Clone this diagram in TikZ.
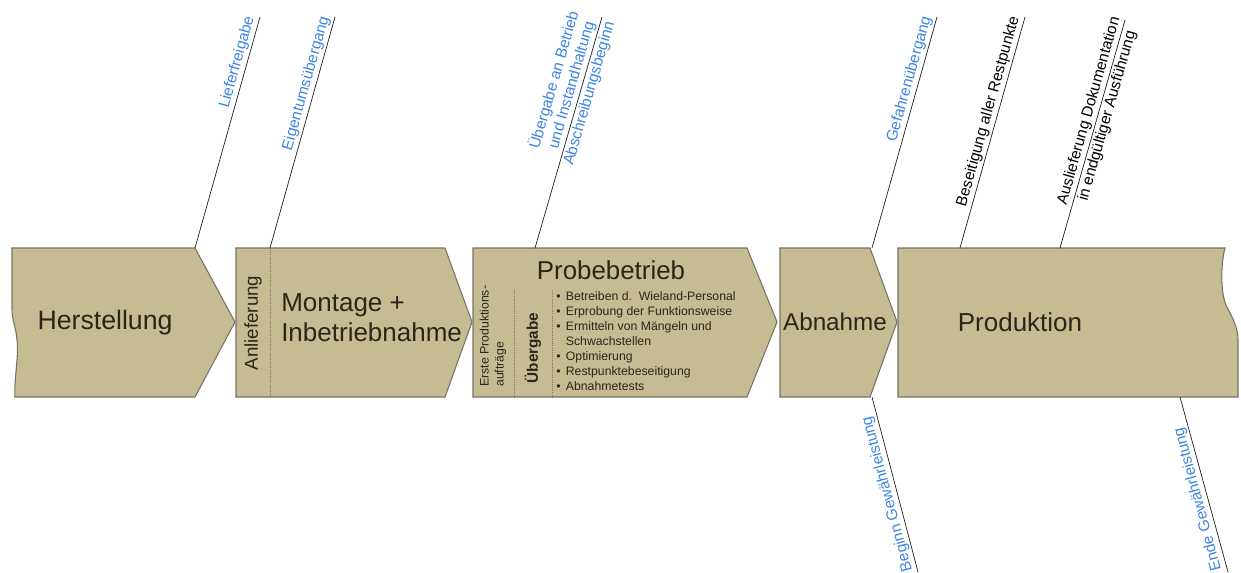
\documentclass[tikz,border=0pt]{standalone}
\usepackage{fontspec}
\setmainfont{Liberation Sans}
\usetikzlibrary{calc}

\definecolor{phaseFill}{RGB}{197,188,148}
\definecolor{phaseLine}{RGB}{118,116,98}
\definecolor{phaseText}{RGB}{42,38,24}
\definecolor{msBlue}{RGB}{62,132,228}

\begin{document}
\begin{tikzpicture}[
    x=0.75pt, y=0.75pt,
    phasebox/.style={fill=phaseFill, draw=phaseLine, line width=0.8pt},
    sepline/.style={draw=phaseLine, densely dotted, line width=0.6pt},
    msline/.style={draw=black!85, line width=0.55pt},
    bigtext/.style={text=phaseText, inner sep=0pt},
    smalltext/.style={text=phaseText, inner sep=0pt, font=\fontsize{9.2}{11.25}\selectfont},
    mslabel/.style={font=\fontsize{11.6}{13.5}\selectfont, inner sep=1.5pt},
]
    \useasboundingbox (0,0) rectangle (1241,572);

    \def\boxTop{324}
    \def\boxBot{175}
    \def\boxMid{250}

    % phase boxes
    \draw [phasebox] (12,\boxTop) -- (195,\boxTop) -- (235,\boxMid) -- (195,\boxBot) -- (15,\boxBot)
        .. controls (14,195) and (19,215) .. (17,232) .. controls (16,245) and (12,252) .. (12,262) -- cycle;
    \draw [phasebox] (236,\boxTop) -- (445,\boxTop) -- (472,\boxMid) -- (445,\boxBot) -- (236,\boxBot) -- cycle;
    \draw [phasebox] (473,\boxTop) -- (747,\boxTop) -- (777,\boxMid) -- (747,\boxBot) -- (473,\boxBot) -- cycle;
    \draw [phasebox] (780,\boxTop) -- (870,\boxTop) -- (897,\boxMid) -- (870,\boxBot) -- (780,\boxBot) -- cycle;
    \draw [phasebox] (898,\boxTop) -- (1225,\boxTop) .. controls (1220,305) and (1221,275) .. (1227,265)
        .. controls (1232,255) and (1238,245) .. (1238,232) -- (1238,\boxBot) -- (898,\boxBot) -- cycle;

    % dotted separators
    \draw [sepline] (270,\boxTop) -- (270,\boxBot);
    \foreach \x in {514, 552}
    {
        \draw [sepline] (\x,282) -- (\x,\boxBot);
    }

    % phase texts
    \node [bigtext, font=\fontsize{20}{24}\selectfont] (herstellung) at (105,249) {Herstellung};
    \node [bigtext, font=\fontsize{14}{16}\selectfont, rotate=90] (anlieferung) at (253,249) {Anlieferung};
    \node [bigtext, font=\fontsize{19.5}{22.5}\selectfont, align=left, anchor=west] (montage) at (281,254) {Montage +\\Inbetriebnahme};
    \node [bigtext, font=\fontsize{19.4}{22}\selectfont] (probebetrieb) at (611,302) {Probebetrieb};
    \node [smalltext, rotate=90, align=left, anchor=west] (ersteAuftraege) at (493,185) {Erste Produktions-\\aufträge};
    \node [bigtext, font=\bfseries\fontsize{11.5}{13}\selectfont, rotate=90] (uebergabe) at (533,224) {Übergabe};
    \node [smalltext, anchor=west] (probeListe) at (556,230) {%
        \begin{tabular}{@{}l@{\hspace{4pt}}l@{}}
        \textbullet & Betreiben d.\ \ Wieland-Personal\\
        \textbullet & Erprobung der Funktionsweise\\
        \textbullet & Ermitteln von Mängeln und\\
                    & Schwachstellen\\
        \textbullet & Optimierung\\
        \textbullet & Restpunktebeseitigung\\
        \textbullet & Abnahmetests
        \end{tabular}};
    \node [bigtext, font=\fontsize{18.2}{22}\selectfont] (abnahme) at (835,250) {Abnahme};
    \node [bigtext, font=\fontsize{19.5}{22}\selectfont] (produktion) at (1020,250) {Produktion};

    % milestones above the boxes
    \foreach \i/\bx/\lcol/\ltext in {
    1/195/msBlue/Lieferfreigabe,
    2/270/msBlue/Eigentumsübergang,
    4/872/msBlue/Gefahrenübergang,
    5/960/black/Beseitigung aller Restpunkte}
    {
        \coordinate (msBot_\i) at (\bx,\boxTop);
        \coordinate (msTop_\i) at (\bx+65,555);
        \draw [msline] (msBot_\i) -- (msTop_\i)
            node [mslabel, text=\lcol, at end, sloped, anchor=south east] (msLabel_\i) {\ltext};
    }

    \coordinate (msBot_3) at (535,\boxTop);
    \coordinate (msTop_3) at (602,555);
    \draw [msline] (msBot_3) -- (msTop_3)
        node [mslabel, text=msBlue, at end, sloped, anchor=south east, align=center] (msLabel_3a) {Übergabe an Betrieb\\und Instandhaltung}
        node [mslabel, text=msBlue, at end, sloped, anchor=north east] (msLabel_3b) {Abschreibungsbeginn};

    \coordinate (msBot_6) at (1060,\boxTop);
    \coordinate (msTop_6) at (1125,552);
    \draw [msline] (msBot_6) -- (msTop_6)
        node [mslabel, pos=0.59, sloped, above] (msLabel_6a) {Auslieferung Dokumentation}
        node [mslabel, pos=0.59, sloped, below] (msLabel_6b) {in endgültiger Ausführung};

    % milestones below the boxes
    \foreach \i/\bx/\ex/\p/\ltext in {
    7/872/918/0.54/Beginn Gewährleistung,
    8/1180/1228/0.57/Ende Gewährleistung}
    {
        \coordinate (msBot_\i) at (\bx,\boxBot);
        \coordinate (msEnd_\i) at (\ex,0);
        \draw [msline] (msBot_\i) -- (msEnd_\i)
            node [mslabel, text=msBlue, pos=\p, rotate=105, anchor=south] (msLabel_\i) {\ltext};
    }

\end{tikzpicture}
\end{document}
